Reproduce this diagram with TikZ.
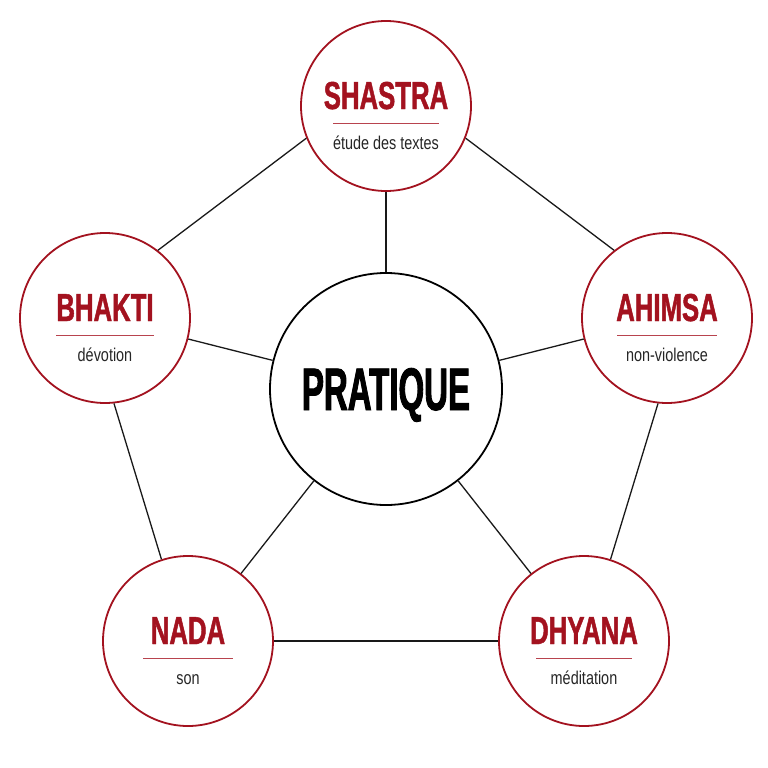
\documentclass[tikz,border=0pt]{standalone}
\usepackage{fontspec}
\newfontfamily\titlefont[FakeStretch=0.66,FakeBold=1.2]{Liberation Sans}
\newfontfamily\hubfont[FakeStretch=0.55,FakeBold=1.5]{Liberation Sans}
\newfontfamily\subfont[FakeStretch=0.78]{Liberation Sans}
\definecolor{pred}{HTML}{A3121F}
\definecolor{pline}{HTML}{B8434E}
\definecolor{subgray}{HTML}{262626}
\tikzset{
  pillar/.style={circle, draw=pred, line width=1.8pt, minimum size=170pt, inner sep=0pt, fill=white},
  hub/.style={circle, draw=black, line width=1.8pt, minimum size=232pt, inner sep=0pt, fill=white},
  link/.style={draw=black!90, line width=1.3pt},
  ttl/.style={anchor=base, text=pred, inner sep=0pt, font=\titlefont\bfseries\fontsize{39}{39}\selectfont},
  hubttl/.style={anchor=base, text=black, inner sep=0pt, font=\hubfont\bfseries\fontsize{60}{60}\selectfont},
  subttl/.style={anchor=base, text=subgray, inner sep=0pt, font=\subfont\fontsize{18.5}{18.5}\selectfont},
  uline/.style={draw=pline, line width=1pt}
}
\newcommand{\pillarlabels}[4]{%
  \node[ttl] (#1t) at ([yshift=-3pt]#1.center) {#2};
  \node[subttl] (#1s) at ([yshift=-43pt]#1.center) {#3};
  \draw[uline] ([xshift=-#4pt,yshift=-17pt]#1.center) -- ([xshift=#4pt,yshift=-17pt]#1.center);
}
\begin{document}
\begin{tikzpicture}[x=1pt,y=-1pt]
\useasboundingbox (0,0) rectangle (768,768);
\fill[white] (0,0) rectangle (768,768);

\node[pillar] (sha) at (386,106) {};
\node[pillar] (bha) at (105,318) {};
\node[pillar] (ahi) at (667,318) {};
\node[pillar] (nad) at (188,641) {};
\node[pillar] (dhy) at (584,641) {};
\node[hub] (hub) at (386,389) {};

\draw[link] (sha.202) -- (bha.52);
\draw[link] (sha.338) -- (ahi.128);
\draw[link] (bha.276) -- (nad.108);
\draw[link] (ahi.264) -- (dhy.72);
\draw[link] (nad.0) -- (dhy.180);
\draw[link] (hub) -- (sha);
\draw[link] (hub) -- (bha);
\draw[link] (hub) -- (ahi);
\draw[link] (hub) -- (nad);
\draw[link] (hub) -- (dhy);

\node[hubttl] (hubt) at ([yshift=-21pt]hub.center) {PRATIQUE};

\pillarlabels{sha}{SHASTRA}{étude des textes}{53}
\pillarlabels{bha}{BHAKTI}{dévotion}{49}
\pillarlabels{ahi}{AHIMSA}{non-violence}{50}
\pillarlabels{nad}{NADA}{son}{45}
\pillarlabels{dhy}{DHYANA}{méditation}{48}
\end{tikzpicture}
\end{document}
